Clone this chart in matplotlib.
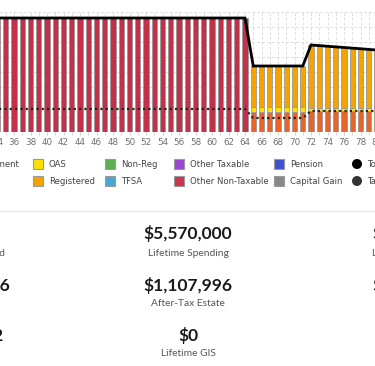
import numpy as np
import matplotlib.pyplot as plt
from matplotlib.patches import Rectangle, Ellipse
from matplotlib.ticker import MultipleLocator

# yearly income by source (ages 33..81)
ages = list(range(33, 82))
cpp = [0] * 32 + [26700] * 7 + [28000] * 10
oas = [0] * 32 + [7000] * 7 + [4000] * 10
registered = [0] * 32 + [54300] * 7 + [84000, 83200, 82300, 81500, 80700,
                                       79800, 79000, 78100, 77300, 76500]
other_non_taxable = [152000] * 32 + [0] * 17
taxes = [30700] * 32 + [18700] * 7 + [28000] * 10

legend_row1 = [("Employment", "#d9534f"), ("OAS", "#ffe100"), ("Non-Reg", "#5cb050"),
               ("Other Taxable", "#9b45d4"), ("Pension", "#3f51d0")]
legend_row2 = [("CPP", "#e8642a"), ("Registered", "#f5a300"), ("TFSA", "#4aa8d0"),
               ("Other Non-Taxable", "#c8384f"), ("Capital Gain", "#888888")]
line_items = [("Total Income", "#000000"), ("Taxes", "#333333")]

stat_mid = [("$5,570,000", "Lifetime Spending"),
            ("$1,107,996", "After-Tax Estate"),
            ("$0", "Lifetime GIS")]
stat_left = [("$742,380", "Total Taxes Paid"), ("$1,840,216", "Net Worth at 65"),
             ("92", "Plan End Age")]
stat_right = [("$3,215,400", "Lifetime Taxes"), ("$2,046,512", "Estate Value")]

W, H = 375, 366
fig = plt.figure(figsize=(W / 100, H / 100), dpi=100)


def fx(px):
    return px / W


def fy(py):
    return 1 - py / H


# axes wider than the figure, chart is cropped on both sides
ppy = 8.25          # pixels per year
x36 = 14            # pixel position of age 36
left_px, right_px = -30, 405
ax = fig.add_axes([fx(left_px), fy(132), (right_px - left_px) / W, 120 / H])
ax.set_xlim(36 + (left_px - x36) / ppy, 36 + (right_px - x36) / ppy)
ax.set_ylim(0, 160000)

stacks = [(cpp, "#e8642a"), (oas, "#ffe100"), (registered, "#f5a300"),
          (other_non_taxable, "#c2304a")]
bottom = np.zeros(len(ages))
for vals, col in stacks:
    vals = np.array(vals, dtype=float)
    m = vals > 0
    ax.bar(np.array(ages)[m], vals[m], bottom=bottom[m], width=0.64, color=col,
           edgecolor="#999999", linewidth=0.6, zorder=3)
    bottom += vals
total = bottom

ax.plot(ages, total, color="black", lw=2, zorder=5, solid_joinstyle="miter")
ax.plot(ages, taxes, color="#222222", lw=1.6, linestyle=(0, (1, 1.4)), zorder=5)

ax.xaxis.set_major_locator(MultipleLocator(2))
ax.xaxis.set_minor_locator(MultipleLocator(1))
ax.yaxis.set_major_locator(MultipleLocator(20000))
ax.set_axisbelow(True)
ax.grid(True, which="both", axis="x", color="#dddddd", lw=0.7, linestyle=(0, (3, 2)))
ax.grid(True, which="major", axis="y", color="#dddddd", lw=0.7, linestyle=(0, (3, 2)))
ax.tick_params(axis="x", which="both", length=2, color="#cccccc", labelsize=6.3,
               labelcolor="#707070", pad=2.5)
ax.tick_params(axis="y", left=False, labelleft=False)
for s in ax.spines.values():
    s.set_visible(False)

# legend
text_x = [-35, 49, 121, 190, 290]
for row, yc in ((legend_row1, 164), (legend_row2, 181)):
    for (name, col), tx in zip(row, text_x):
        fig.add_artist(Rectangle((fx(tx - 16), fy(yc + 5)), 10 / W, 10 / H,
                                 transform=fig.transFigure, facecolor=col,
                                 edgecolor="#999999", lw=0.8))
        fig.text(fx(tx), fy(yc), name, fontsize=6.1, color="#444444",
                 ha="left", va="center")
for (name, col), yc in zip(line_items, (164, 181)):
    fig.add_artist(Ellipse((fx(357), fy(yc)), 10 / W, 10 / H,
                           transform=fig.transFigure, facecolor=col, edgecolor="none"))
    fig.text(fx(367), fy(yc), name, fontsize=6.1, color="#444444", ha="left", va="center")

# separator
fig.add_artist(plt.Line2D([0, 1], [fy(211), fy(211)], transform=fig.transFigure,
                          color="#e6e6e6", lw=0.8))

# summary stats
val_y = [233, 286, 336]
lab_y = [253, 303, 354]
for (v, l), vy, ly in zip(stat_mid, val_y, lab_y):
    fig.text(fx(188), fy(vy), v, fontsize=12.5, fontweight="bold", family="Lato",
             color="#1a1a1a", ha="center", va="center")
    fig.text(fx(188), fy(ly), l, fontsize=7.4, family="Lato", color="#555555",
             ha="center", va="center")

left_val_x = [-12, 10, 3]
left_lab_x = [5, -10, -10]
for (v, l), vy, ly, vx, lx in zip(stat_left, val_y, lab_y, left_val_x, left_lab_x):
    fig.text(fx(vx), fy(vy), v, fontsize=12.5, fontweight="bold", family="Lato",
             color="#1a1a1a", ha="right", va="center")
    fig.text(fx(lx), fy(ly), l, fontsize=7.4, family="Lato", color="#555555",
             ha="right", va="center")

right_lab_x = [372, 395]
for (v, l), vy, ly, lx in zip(stat_right, val_y, lab_y, right_lab_x):
    fig.text(fx(372), fy(vy), v, fontsize=12.5, fontweight="bold", family="Lato",
             color="#1a1a1a", ha="left", va="center")
    fig.text(fx(lx), fy(ly), l, fontsize=7.4, family="Lato", color="#555555",
             ha="left", va="center")

fig.savefig("out.png", dpi=100)
